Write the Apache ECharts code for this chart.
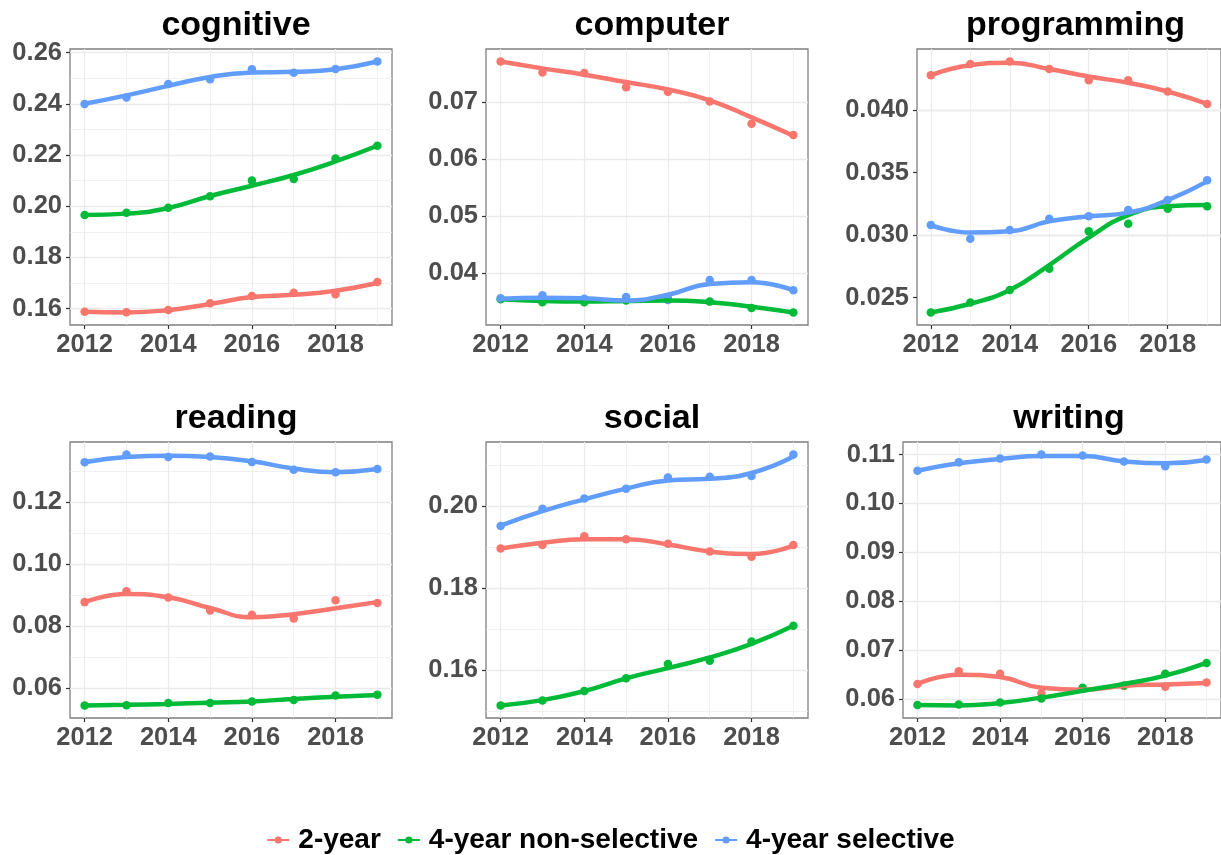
<!DOCTYPE html>
<html>
<head>
<meta charset="utf-8">
<title>Skill shares by institution type</title>
<script src="https://cdn.jsdelivr.net/npm/echarts@6/dist/echarts.min.js"></script>
<style>
  html, body { margin: 0; padding: 0; background: #ffffff; }
  #chart { width: 1221px; height: 855px; }
</style>
</head>
<body>
<div id="chart"></div>
<script>
// ---- data -------------------------------------------------------------
const years = [2012, 2013, 2014, 2015, 2016, 2017, 2018, 2019];
const groups = ['2-year', '4-year non-selective', '4-year selective'];
const facets = ['cognitive', 'computer', 'programming', 'reading', 'social', 'writing'];
const xTickLabels = ['2012', '2014', '2016', '2018'];

const cognitiveTicks   = ['0.16', '0.18', '0.20', '0.22', '0.24', '0.26'];
const computerTicks    = ['0.04', '0.05', '0.06', '0.07'];
const programmingTicks = ['0.025', '0.030', '0.035', '0.040'];
const readingTicks     = ['0.06', '0.08', '0.10', '0.12'];
const socialTicks      = ['0.16', '0.18', '0.20'];
const writingTicks     = ['0.06', '0.07', '0.08', '0.09', '0.10', '0.11'];

// yearly observed shares
const cognitive2yr    = [0.1588, 0.1586, 0.1595, 0.1621, 0.1649, 0.1662, 0.1656, 0.1704];
const cognitiveNonSel = [0.1966, 0.1974, 0.1994, 0.2039, 0.2100, 0.2106, 0.2186, 0.2236];
const cognitiveSel    = [0.2399, 0.2425, 0.2477, 0.2496, 0.2535, 0.2521, 0.2536, 0.2565];
const computer2yr     = [0.0771, 0.0752, 0.0751, 0.0726, 0.0718, 0.0701, 0.0662, 0.0642];
const computerNonSel  = [0.0354, 0.0349, 0.0349, 0.0352, 0.0355, 0.0350, 0.0339, 0.0331];
const computerSel     = [0.0356, 0.0361, 0.0355, 0.0358, 0.0353, 0.0388, 0.0388, 0.0370];
const programming2yr    = [0.0428, 0.0437, 0.0439, 0.0433, 0.0424, 0.0424, 0.0415, 0.0405];
const programmingNonSel = [0.0238, 0.0246, 0.0256, 0.0273, 0.0303, 0.0309, 0.0321, 0.0323];
const programmingSel    = [0.0308, 0.0297, 0.0304, 0.0313, 0.0315, 0.0320, 0.0328, 0.0344];
const reading2yr      = [0.0877, 0.0912, 0.0892, 0.0850, 0.0836, 0.0824, 0.0883, 0.0874];
const readingNonSel   = [0.0543, 0.0544, 0.0551, 0.0551, 0.0556, 0.0561, 0.0575, 0.0578];
const readingSel      = [0.1329, 0.1354, 0.1346, 0.1348, 0.1330, 0.1305, 0.1297, 0.1307];
const social2yr       = [0.1896, 0.1905, 0.1926, 0.1919, 0.1908, 0.1889, 0.1876, 0.1905];
const socialNonSel    = [0.1514, 0.1526, 0.1549, 0.1580, 0.1615, 0.1623, 0.1670, 0.1708];
const socialSel       = [0.1951, 0.1993, 0.2018, 0.2042, 0.2069, 0.2071, 0.2073, 0.2125];
const writing2yr      = [0.0631, 0.0657, 0.0652, 0.0612, 0.0621, 0.0627, 0.0625, 0.0634];
const writingNonSel   = [0.0588, 0.0589, 0.0593, 0.0601, 0.0623, 0.0628, 0.0652, 0.0674];
const writingSel      = [0.1067, 0.1084, 0.1092, 0.1100, 0.1098, 0.1086, 0.1076, 0.1090];

// smoothed trend values at each year
const cognitive2yrFit    = [0.1588, 0.1585, 0.1594, 0.1618, 0.1645, 0.1654, 0.1670, 0.1700];
const cognitiveNonSelFit = [0.1966, 0.1971, 0.1993, 0.2040, 0.2080, 0.2122, 0.2175, 0.2236];
const cognitiveSelFit    = [0.2400, 0.2433, 0.2470, 0.2505, 0.2522, 0.2525, 0.2535, 0.2565];
const computer2yrFit     = [0.0771, 0.0759, 0.0748, 0.0735, 0.0722, 0.0703, 0.0673, 0.0641];
const computerNonSelFit  = [0.0354, 0.0351, 0.0350, 0.0351, 0.0352, 0.0349, 0.0341, 0.0331];
const computerSelFit     = [0.0355, 0.0357, 0.0356, 0.0352, 0.0362, 0.0381, 0.0384, 0.0370];
const programming2yrFit    = [0.0428, 0.0436, 0.0438, 0.0433, 0.0427, 0.0422, 0.0415, 0.0405];
const programmingNonSelFit = [0.0238, 0.0245, 0.0256, 0.0276, 0.0298, 0.0316, 0.0323, 0.0324];
const programmingSelFit    = [0.0308, 0.0302, 0.0303, 0.0311, 0.0315, 0.0318, 0.0328, 0.0343];
const reading2yrFit      = [0.0877, 0.0903, 0.0893, 0.0858, 0.0828, 0.0838, 0.0857, 0.0877];
const readingNonSelFit   = [0.0543, 0.0545, 0.0548, 0.0552, 0.0556, 0.0564, 0.0571, 0.0577];
const readingSelFit      = [0.1329, 0.1346, 0.1350, 0.1346, 0.1332, 0.1309, 0.1297, 0.1307];
const social2yrFit       = [0.1896, 0.1910, 0.1919, 0.1919, 0.1906, 0.1889, 0.1883, 0.1903];
const socialNonSelFit    = [0.1514, 0.1527, 0.1549, 0.1580, 0.1605, 0.1631, 0.1664, 0.1708];
const socialSelFit       = [0.1952, 0.1987, 0.2016, 0.2042, 0.2062, 0.2066, 0.2080, 0.2120];
const writing2yrFit      = [0.0631, 0.0650, 0.0645, 0.0623, 0.0619, 0.0627, 0.0630, 0.0633];
const writingNonSelFit   = [0.0588, 0.0587, 0.0592, 0.0603, 0.0617, 0.0631, 0.0648, 0.0674];
const writingSelFit      = [0.1067, 0.1082, 0.1091, 0.1097, 0.1097, 0.1086, 0.1082, 0.1089];

// ---- assembly ---------------------------------------------------------
const panelData = [
  { ticks: cognitiveTicks,   pts: [cognitive2yr, cognitiveNonSel, cognitiveSel],       fit: [cognitive2yrFit, cognitiveNonSelFit, cognitiveSelFit] },
  { ticks: computerTicks,    pts: [computer2yr, computerNonSel, computerSel],          fit: [computer2yrFit, computerNonSelFit, computerSelFit] },
  { ticks: programmingTicks, pts: [programming2yr, programmingNonSel, programmingSel], fit: [programming2yrFit, programmingNonSelFit, programmingSelFit] },
  { ticks: readingTicks,     pts: [reading2yr, readingNonSel, readingSel],             fit: [reading2yrFit, readingNonSelFit, readingSelFit] },
  { ticks: socialTicks,      pts: [social2yr, socialNonSel, socialSel],                fit: [social2yrFit, socialNonSelFit, socialSelFit] },
  { ticks: writingTicks,     pts: [writing2yr, writingNonSel, writingSel],             fit: [writing2yrFit, writingNonSelFit, writingSelFit] }
];

// panel boxes: left, top, width, height (px)
const boxes = [
  [70, 49, 322, 276], [486, 49, 322, 276], [917, 49, 307, 276],
  [70, 442, 322, 276], [486, 442, 322, 276], [903, 442, 322, 276]
];

const palette = ['#F8766D', '#00BA38', '#619CFF'];
const FONT = "'Liberation Sans', Arial, Helvetica, sans-serif";
const GRID_COLOR = '#EBEBEB';

const xPad = (years[years.length - 1] - years[0]) * 0.05;
const xMin = years[0] - xPad;
const xMax = years[years.length - 1] + xPad;
const xTicks = xTickLabels.map(Number);

const option = {
  animation: false,
  backgroundColor: '#ffffff',
  title: [],
  grid: [],
  xAxis: [],
  yAxis: [],
  series: [],
  legend: {
    data: groups,
    left: 'center',
    top: 821,
    itemWidth: 22,
    itemHeight: 9,
    itemGap: 16,
    selectedMode: false,
    textStyle: { fontFamily: FONT, fontSize: 28, fontWeight: 'bold', color: '#000000', padding: [0, 0, 0, 4] }
  }
};

panelData.forEach((p, i) => {
  const [left, top, width, height] = boxes[i];

  // y range: data extent expanded by 5% on each side
  const all = [].concat(...p.pts, ...p.fit);
  const lo = Math.min(...all), hi = Math.max(...all);
  const pad = (hi - lo) * 0.05;
  const yMin = lo - pad, yMax = hi + pad;
  const yTicks = p.ticks.map(Number);
  const step = yTicks[1] - yTicks[0];

  // minor grid positions halfway between major ticks
  const yMinor = [];
  for (let v = yTicks[0] - step / 2; v <= yMax + 1e-9; v += step) {
    if (v >= yMin) yMinor.push(+v.toFixed(6));
  }
  const xMinor = [];
  for (let v = xTicks[0] - 1; v <= xMax; v += 2) {
    if (v >= xMin) xMinor.push(v);
  }

  option.title.push({
    text: facets[i],
    left: left + width / 2,
    top: top - 45,
    textAlign: 'center',
    textStyle: { fontFamily: FONT, fontSize: 34, fontWeight: 'bold', color: '#000000' }
  });

  option.grid.push({
    left, top, width, height,
    show: true,
    borderColor: '#7F7F7F',
    borderWidth: 1.3,
    backgroundColor: 'transparent'
  });

  const labelStyle = { fontFamily: FONT, fontSize: 25.5, fontWeight: 'bold', color: '#4D4D4D' };

  option.xAxis.push({
    type: 'value', gridIndex: i, min: xMin, max: xMax,
    splitLine: { show: false },
    axisLine: { show: false },
    axisTick: { show: true, customValues: xTicks, length: 4, lineStyle: { color: '#333333', width: 1.2 } },
    axisLabel: Object.assign({ customValues: xTicks, margin: 7, formatter: v => String(v) }, labelStyle)
  });

  option.yAxis.push({
    type: 'value', gridIndex: i, min: yMin, max: yMax,
    splitLine: { show: false },
    axisLine: { show: false },
    axisTick: { show: true, customValues: yTicks, length: 4, lineStyle: { color: '#333333', width: 1.2 } },
    axisLabel: Object.assign({
      customValues: yTicks, margin: 8,
      formatter: v => {
        const k = yTicks.findIndex(t => Math.abs(t - v) < step / 100);
        return k >= 0 ? p.ticks[k] : '';
      }
    }, labelStyle)
  });

  // panel grid lines
  const gridLines = []
    .concat(yMinor.map(v => ({ yAxis: v, lineStyle: { width: 0.7 } })))
    .concat(xMinor.map(v => ({ xAxis: v, lineStyle: { width: 0.7 } })))
    .concat(yTicks.map(v => ({ yAxis: v, lineStyle: { width: 1.3 } })))
    .concat(xTicks.map(v => ({ xAxis: v, lineStyle: { width: 1.3 } })));

  option.series.push({
    type: 'line', xAxisIndex: i, yAxisIndex: i, data: [], silent: true, z: 1,
    markLine: {
      silent: true, z: 1, symbol: ['none', 'none'], label: { show: false },
      lineStyle: { color: GRID_COLOR, type: 'solid' },
      emphasis: { disabled: true },
      data: gridLines
    }
  });

  // smoothed trends (listed first so the legend uses the line icon)
  groups.forEach((g, k) => {
    option.series.push({
      type: 'line', name: g, xAxisIndex: i, yAxisIndex: i, z: 3,
      data: years.map((yr, j) => [yr, p.fit[k][j]]),
      smooth: 0.5, symbol: 'circle', showSymbol: false, symbolSize: 7,
      lineStyle: { width: 4.5, color: palette[k] },
      itemStyle: { color: palette[k] },
      silent: true, emphasis: { disabled: true }
    });
  });

  // observed yearly values
  groups.forEach((g, k) => {
    option.series.push({
      type: 'scatter', name: g, xAxisIndex: i, yAxisIndex: i, z: 2,
      data: years.map((yr, j) => [yr, p.pts[k][j]]),
      symbol: 'circle', symbolSize: 8.5,
      itemStyle: { color: palette[k], opacity: 1 },
      silent: true, emphasis: { disabled: true }
    });
  });
});

const chart = echarts.init(document.getElementById('chart'), null, { renderer: 'canvas' });
chart.setOption(option);
</script>
</body>
</html>
